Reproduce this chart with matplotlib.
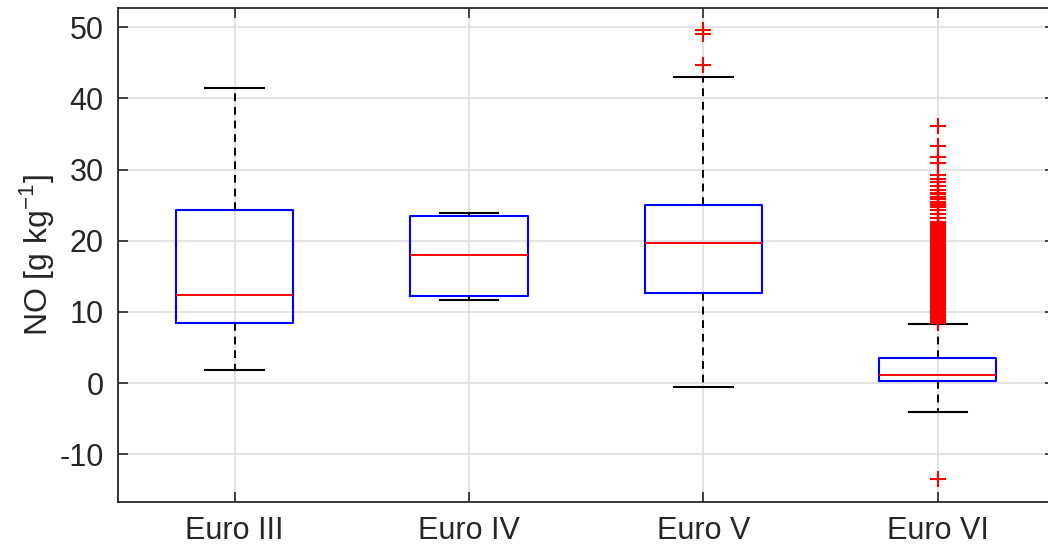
import matplotlib.pyplot as plt

# NO emission factors per Euro class, summarised as box statistics
classes = ["Euro III", "Euro IV", "Euro V", "Euro VI"]
whisker_low = [1.8, 11.7, -0.6, -4.0]
q1 = [8.4, 12.2, 12.6, 0.3]
median = [12.4, 18.0, 19.7, 1.2]
q3 = [24.3, 23.5, 25.0, 3.5]
whisker_high = [41.4, 23.9, 43.0, 8.3]

fliers_euro3 = []
fliers_euro4 = []
fliers_euro5 = [49.6, 49.0, 44.7]
fliers_euro6 = [36.1, 33.3, 31.8, 30.9, 29.2, 28.7, 28.3, 27.7, 27.1,
                26.7, 26.5, 26.2, 26.0, 25.8, 25.5, 25.3, 25.0, 24.7,
                24.3, 23.7, 23.2, 22.6, 22.4, 22.1, 21.9, 21.7, 21.5,
                21.3, 21.1, 20.9, 20.7, 20.5, 20.3, 20.1, 19.9, 19.7,
                19.5, 19.3, 19.1, 18.9, 18.7, 18.5, 18.3, 18.1, 17.9,
                17.7, 17.5, 17.3, 17.1, 16.9, 16.7, 16.5, 16.3, 16.1,
                15.9, 15.7, 15.5, 15.3, 15.1, 14.9, 14.7, 14.5, 14.3,
                14.1, 13.9, 13.7, 13.5, 13.3, 13.1, 12.9, 12.7, 12.5,
                12.3, 12.1, 11.9, 11.7, 11.5, 11.3, 11.1, 10.9, 10.7,
                10.5, 10.3, 10.1, 9.9, 9.7, 9.5, 9.3, 9.1, 8.9, 8.7,
                8.5, -13.5]
fliers = [fliers_euro3, fliers_euro4, fliers_euro5, fliers_euro6]

plt.rcParams['font.family'] = ['Liberation Sans', 'DejaVu Sans']
plt.rcParams['axes.unicode_minus'] = False
txt = '#262626'

stats = []
for i in range(len(classes)):
    stats.append(dict(label=classes[i], whislo=whisker_low[i], q1=q1[i],
                      med=median[i], q3=q3[i], whishi=whisker_high[i],
                      fliers=fliers[i]))

fig = plt.figure(figsize=(10.48, 5.49), dpi=100)
ax = fig.add_axes([117.5/1048, 1 - 502/549, 937.5/1048, 494/549])

ax.bxp(stats, positions=[1, 2, 3, 4], widths=0.5, showfliers=True,
       boxprops=dict(color='#0000ff', linewidth=1.5),
       medianprops=dict(color='#ff0000', linewidth=1.4),
       whiskerprops=dict(color='black', linewidth=1.4, linestyle=(0, (4, 3))),
       capprops=dict(color='black', linewidth=1.5),
       capwidths=0.25,
       flierprops=dict(marker='+', markeredgecolor='#ff0000',
                       markersize=12, markeredgewidth=1.5))

ax.set_xlim(0.5, 4.5)
ax.set_ylim(-16.7, 52.7)
ax.set_yticks([-10, 0, 10, 20, 30, 40, 50])
ax.set_xticks([1, 2, 3, 4])
ax.set_xticklabels(classes)
ax.set_ylabel('NO [g kg$^{\\mathregular{-1}}$]', fontsize=23, color=txt,
              labelpad=2)

ax.grid(True, color='#dedede', linewidth=1.2)
ax.set_axisbelow(True)
ax.tick_params(direction='in', length=7, width=1.2, colors=txt,
               labelsize=22, top=True, right=True, pad=10)
for s in ax.spines.values():
    s.set_color(txt)
    s.set_linewidth(1.3)

fig.savefig('out.png', dpi=100)
